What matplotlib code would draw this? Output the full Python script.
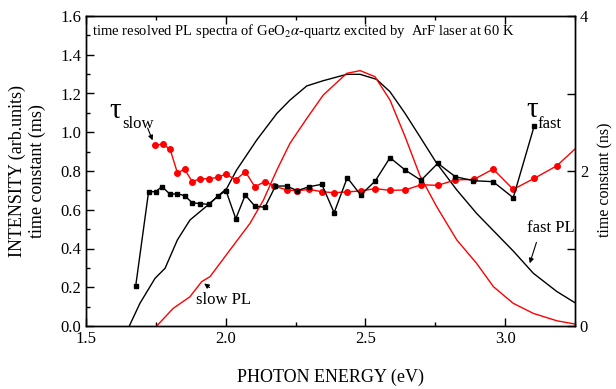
import matplotlib
matplotlib.use("Agg")
import matplotlib.pyplot as plt
from matplotlib.ticker import MultipleLocator

plt.rcParams['font.family'] = ['Liberation Serif', 'DejaVu Serif']
plt.rcParams['mathtext.fontset'] = 'stix'

# slow PL (red curve), left axis
slow_pl_x = [1.753, 1.812, 1.872, 1.914, 1.944, 2.015, 2.087, 2.135, 2.183, 2.230, 2.290, 2.349,
             2.433, 2.481, 2.534, 2.588, 2.642, 2.695, 2.755, 2.827, 2.898, 2.958, 3.029, 3.101,
             3.185, 3.25]
slow_pl_y = [0.0, 0.091, 0.151, 0.229, 0.255, 0.392, 0.530, 0.650, 0.805, 0.943, 1.071, 1.192,
             1.304, 1.318, 1.287, 1.166, 0.977, 0.776, 0.616, 0.444, 0.323, 0.203, 0.117, 0.065,
             0.027, 0.01]

# fast PL (black curve), left axis
fast_pl_x = [1.655, 1.693, 1.747, 1.783, 1.827, 1.872, 1.932, 2.004, 2.039, 2.111, 2.183, 2.230,
             2.290, 2.349, 2.433, 2.481, 2.540, 2.588, 2.642, 2.695, 2.755, 2.827, 2.898, 2.958,
             3.029, 3.101, 3.185, 3.25]
fast_pl_y = [0.0, 0.117, 0.246, 0.298, 0.444, 0.547, 0.619, 0.711, 0.805, 0.960, 1.097, 1.166,
             1.239, 1.266, 1.299, 1.299, 1.273, 1.209, 1.097, 0.977, 0.840, 0.702, 0.581, 0.492,
             0.387, 0.272, 0.178, 0.12]

# tau slow (red circles), ms, left axis
tau_slow_x = [1.747, 1.775, 1.801, 1.827, 1.853, 1.880, 1.908, 1.940, 1.971, 2.001, 2.036, 2.070,
              2.104, 2.140, 2.173, 2.218, 2.256, 2.299, 2.344, 2.388, 2.435, 2.483, 2.535, 2.588,
              2.642, 2.699, 2.759, 2.822, 2.889, 2.957, 3.029, 3.104, 3.185, 3.27]
tau_slow_y = [0.934, 0.938, 0.912, 0.791, 0.809, 0.745, 0.760, 0.760, 0.767, 0.784, 0.754, 0.797,
              0.719, 0.745, 0.723, 0.702, 0.698, 0.705, 0.693, 0.688, 0.692, 0.697, 0.709, 0.700,
              0.702, 0.729, 0.726, 0.754, 0.757, 0.810, 0.705, 0.762, 0.827, 0.94]

# tau fast (black squares), ns, right axis
tau_fast_x = [1.678, 1.724, 1.749, 1.772, 1.801, 1.827, 1.853, 1.880, 1.909, 1.940, 1.971, 2.001,
              2.036, 2.070, 2.104, 2.140, 2.178, 2.218, 2.256, 2.299, 2.344, 2.388, 2.435, 2.483,
              2.535, 2.588, 2.642, 2.699, 2.759, 2.822, 2.886, 2.957, 3.029, 3.104]
tau_fast_y = [0.52, 1.733, 1.733, 1.798, 1.699, 1.707, 1.681, 1.591, 1.578, 1.570, 1.673, 1.746,
              1.385, 1.690, 1.548, 1.531, 1.806, 1.806, 1.746, 1.798, 1.828, 1.462, 1.914, 1.690,
              1.871, 2.172, 2.013, 1.880, 2.099, 1.926, 1.875, 1.862, 1.655, 2.581]

fig = plt.figure(figsize=(6.16, 3.89), dpi=100)
ax = fig.add_axes([86/616, 63/389, (575-86)/616, (326-16)/389])
ax2 = ax.twinx()

ax.plot(fast_pl_x, fast_pl_y, color='black', lw=1.0)
ax.plot(slow_pl_x, slow_pl_y, color='red', lw=1.0)
ax.plot(tau_slow_x, tau_slow_y, color='red', lw=1.0, marker='o', ms=4, mec='red', mfc='red')
ax2.plot(tau_fast_x, tau_fast_y, color='black', lw=1.0, marker='s', ms=3.3, mec='black', mfc='black')

ax.set_xlim(1.5, 3.25)
ax.set_ylim(0, 1.6)
ax2.set_ylim(0, 4)

ax.xaxis.set_major_locator(MultipleLocator(0.5))
ax.xaxis.set_minor_locator(MultipleLocator(0.25))
ax.yaxis.set_major_locator(MultipleLocator(0.2))
ax.yaxis.set_minor_locator(MultipleLocator(0.1))
ax2.yaxis.set_major_locator(MultipleLocator(2))
ax2.yaxis.set_minor_locator(MultipleLocator(1))

ax.tick_params(axis='both', which='both', direction='in', top=True, right=False, labelsize=12)
ax.tick_params(which='major', length=6, width=1)
ax.tick_params(which='minor', length=3, width=1)
ax2.tick_params(axis='y', which='both', direction='in', labelsize=12)
ax2.tick_params(which='major', length=6, width=1)
ax2.tick_params(which='minor', length=6, width=1)

for a in (ax, ax2):
    for s in a.spines.values():
        s.set_linewidth(1.0)

ax.set_xlabel('PHOTON ENERGY (eV)', fontsize=13, labelpad=16)
ax.set_ylabel('INTENSITY (arb.units)\ntime constant (ms)', fontsize=13, labelpad=10,
              multialignment='center')
fig.text(605/616, 1 - 180/389, 'time constant (ns)', fontsize=11.5, rotation=90,
         ha='center', va='center')

ax.text(0.012, 0.95, r'time resolved PL spectra of GeO$_2$$\alpha$-quartz excited by  ArF laser at 60 K',
        transform=ax.transAxes, fontsize=10.5, va='center', ha='left')

ax.text(1.583, 1.11, 'τ', fontsize=21, ha='left', va='center')
ax.text(1.629, 1.045, 'slow', fontsize=12, ha='left', va='center')
ax.annotate('', xy=(1.742, 0.945), xytext=(1.717, 1.035),
            arrowprops=dict(arrowstyle='-|>', color='black', lw=0.8, mutation_scale=7))

ax.text(3.075, 1.115, 'τ', fontsize=21, ha='left', va='center')
ax.text(3.116, 1.045, 'fast', fontsize=12, ha='left', va='center')

ax.text(1.895, 0.135, 'slow PL', fontsize=12, ha='left', va='center')
ax.annotate('', xy=(1.915, 0.228), xytext=(1.95, 0.19),
            arrowprops=dict(arrowstyle='-|>', color='black', lw=0.8, mutation_scale=7))

ax.text(3.08, 0.505, 'fast PL', fontsize=12, ha='left', va='center')
ax.annotate('', xy=(3.085, 0.31), xytext=(3.115, 0.445),
            arrowprops=dict(arrowstyle='-|>', color='black', lw=0.8, mutation_scale=7))

fig.savefig('out.png', dpi=100)
